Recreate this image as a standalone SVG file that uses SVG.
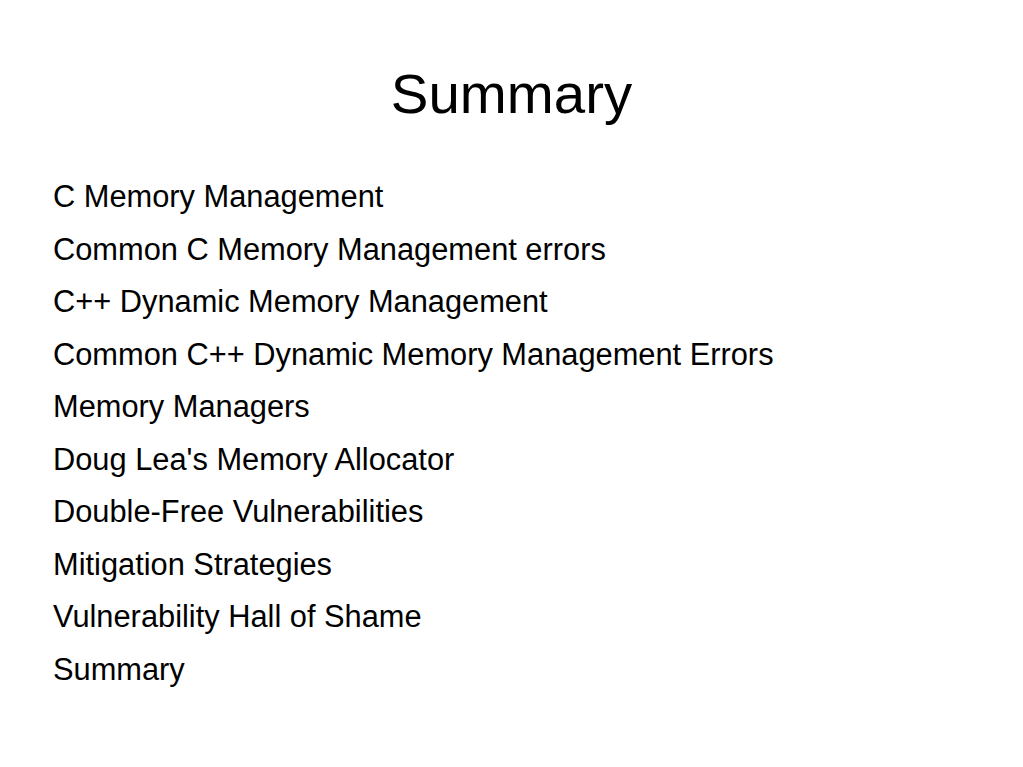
<svg xmlns="http://www.w3.org/2000/svg" width="1023" height="767" viewBox="0 0 1023 767">
<style>
.t{font-family:"Liberation Sans",Arial,sans-serif;fill:#000}
.i{font-size:30.8px}
</style>
<rect width="1023" height="767" fill="#fff"/>
<g id="title"><text class="t" x="511.5" y="113" font-size="56.4" text-anchor="middle">Summary</text></g>
<g id="items">
<text class="t i" x="53" y="207">C Memory Management</text>
<text class="t i" x="53" y="259.5">Common C Memory Management errors</text>
<text class="t i" x="53" y="312">C++ Dynamic Memory Management</text>
<text class="t i" x="53" y="364.5">Common C++ Dynamic Memory Management Errors</text>
<text class="t i" x="53" y="417">Memory Managers</text>
<text class="t i" x="53" y="469.5">Doug Lea's Memory Allocator</text>
<text class="t i" x="53" y="522">Double-Free Vulnerabilities</text>
<text class="t i" x="53" y="574.5">Mitigation Strategies</text>
<text class="t i" x="53" y="627">Vulnerability Hall of Shame</text>
<text class="t i" x="53" y="679.5">Summary</text>
</g>
</svg>
